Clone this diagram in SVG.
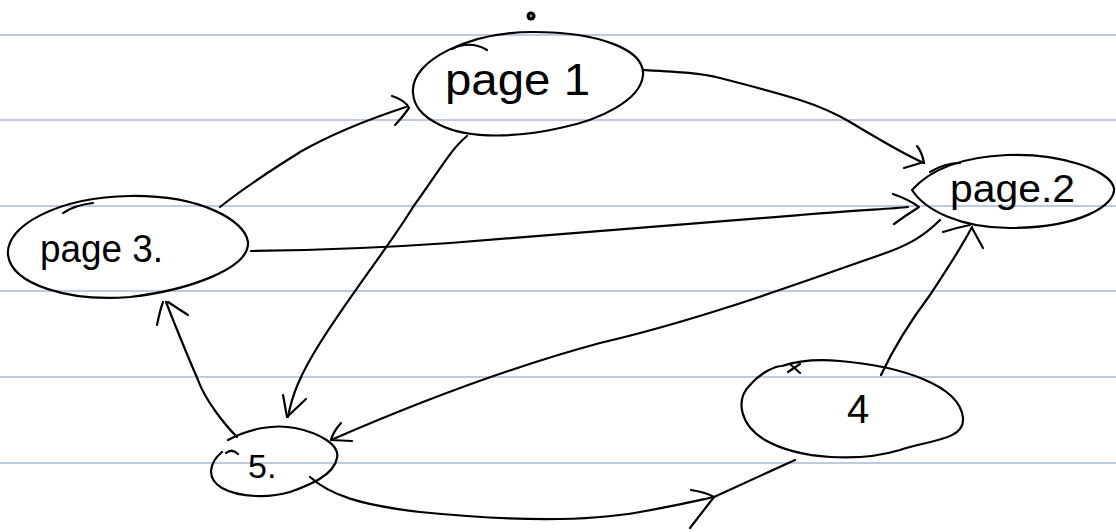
<svg xmlns="http://www.w3.org/2000/svg" width="1116" height="532" viewBox="0 0 1116 532">
<style>
.rule{stroke:#a9b9d8;stroke-width:1.5;fill:none}
.ink{stroke:#000;stroke-width:2.2;fill:none;stroke-linecap:round;stroke-linejoin:round}
.lbl{font-family:"Liberation Sans",Arial,sans-serif;fill:#000}
</style>
<rect width="1116" height="532" fill="#fff"/>
<g id="rules">
<line class="rule" x1="0" y1="35" x2="1116" y2="35"/>
<line class="rule" x1="0" y1="120" x2="1116" y2="120"/>
<line class="rule" x1="0" y1="206" x2="1116" y2="206"/>
<line class="rule" x1="0" y1="291" x2="1116" y2="291"/>
<line class="rule" x1="0" y1="377" x2="1116" y2="377"/>
<line class="rule" x1="0" y1="463" x2="1116" y2="463"/>
</g>
<g id="dot"><circle cx="531" cy="16" r="4.5" fill="#000"/><circle cx="531" cy="16" r="1.4" fill="#999"/></g>
<g id="page1">
<path class="ink" d="M413,93 C410,60 470,32 533,32 C600,32 645,50 643,75 C641,100 600,120 560,128 C520,137 470,140 440,125 C420,115 414,105 413,93 Z"/>
<path class="ink" d="M452,49 Q470,40 487,50"/>
<text class="lbl" x="445" y="95" font-size="44" textLength="145" lengthAdjust="spacingAndGlyphs">page 1</text>
</g>
<g id="page2">
<path class="ink" d="M912,190 C930,170 960,157 1007,155 C1060,153 1110,170 1114,188 C1116,205 1080,228 1010,228 C960,228 925,210 912,190 Z"/>
<path class="ink" d="M930,172 Q945,163 960,163"/>
<text class="lbl" x="950" y="202" font-size="38" textLength="125" lengthAdjust="spacingAndGlyphs">page.2</text>
</g>
<g id="page3">
<path class="ink" d="M8,255 C5,225 60,197 130,196 C200,195 245,220 248,242 C250,268 190,290 130,297 C70,302 12,285 8,255 Z"/>
<path class="ink" d="M63,213 Q75,205 93,203"/>
<text class="lbl" x="40" y="262" font-size="38" textLength="123" lengthAdjust="spacingAndGlyphs">page 3.</text>
</g>
<g id="node4">
<path class="ink" d="M782,366 C800,360 820,359 840,361 C900,366 960,385 963,418 C965,440 930,440 900,450 C860,462 800,460 765,440 C740,425 735,400 750,385 C760,373 775,366 782,366 Z"/>
<path class="ink" d="M788,372 L800,364 M790,364 L800,373"/>
<text class="lbl" x="847" y="423" font-size="40">4</text>
</g>
<g id="node5">
<path class="ink" d="M228,440 C250,428 275,424 295,428 C320,433 340,445 337,458 C334,475 310,485 290,492 C270,498 240,498 222,488 C205,478 210,462 222,452"/>
<path class="ink" d="M226,453 Q232,448 238,454"/>
<text class="lbl" x="248" y="478" font-size="34">5.</text>
</g>
<g id="connectors">
<path class="ink" d="M220,207 C250,183 280,165 300,152 C330,135 360,122 406,107"/>
<path class="ink" d="M392,96 Q405,100 409,108 Q402,118 395,125"/>
<path class="ink" d="M643,70 C680,72 700,73 720,78 C790,96 820,104 850,122 C880,140 905,155 924,163"/>
<path class="ink" d="M917,146 Q922,152 924,163 M904,168 L924,162"/>
<path class="ink" d="M251,251 C330,250 380,248 450,243 C600,232 700,224 800,215 C860,210 890,209 908,207"/>
<path class="ink" d="M893,194 Q910,200 919,207 Q905,216 894,224"/>
<path class="ink" d="M467,136 C450,150 440,170 413,207 C390,245 350,295 320,343 C300,375 292,395 288,417"/>
<path class="ink" d="M283,395 L287,417 L306,399"/>
<path class="ink" d="M940,220 C925,235 910,245 880,255 C800,283 700,320 600,343 C500,370 400,410 331,440"/>
<path class="ink" d="M341,423 Q333,432 331,440 L352,441"/>
<path class="ink" d="M237,437 C225,425 205,400 198,380 C185,350 175,325 166,302"/>
<path class="ink" d="M157,325 Q160,310 163,302 M188,315 L168,302"/>
<path class="ink" d="M881,375 C895,345 915,315 930,295 C945,272 960,250 972,227"/>
<path class="ink" d="M943,232 Q955,228 970,225 M972,228 L983,248"/>
<path class="ink" d="M310,477 C330,495 360,505 420,512 C500,520 580,523 640,512 C680,505 700,500 714,497 L795,460"/>
<path class="ink" d="M691,490 Q705,492 714,497 M690,528 L714,497"/>
</g>
</svg>
